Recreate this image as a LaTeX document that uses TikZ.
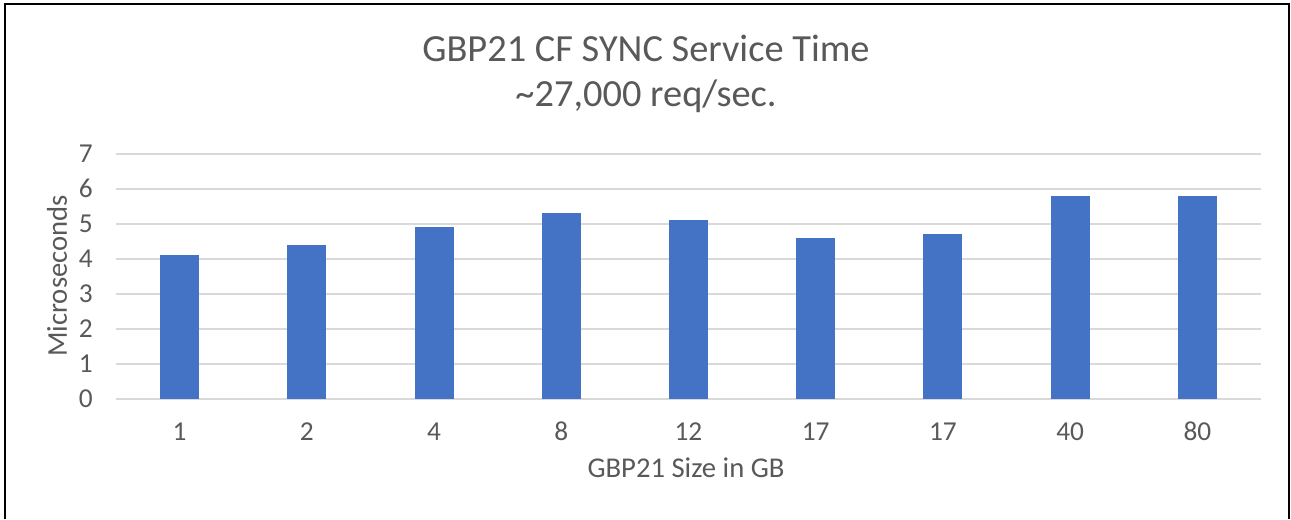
\documentclass[tikz,border=0pt]{standalone}
\usepackage{fontspec}
\setmainfont{Carlito}
\usepackage{xcolor}
\usepackage{tikz}
\usetikzlibrary{positioning}

\definecolor{barblue}{HTML}{4472C4}
\definecolor{txtgray}{HTML}{595959}
\definecolor{gridgray}{HTML}{D9D9D9}

\begin{document}
\begin{tikzpicture}[
  x=0.75pt, y=-0.75pt,
  bar/.style={fill=barblue},
  gridln/.style={draw=gridgray, line width=1.2pt},
  tick/.style={text=txtgray, font=\fontsize{20.5}{24}\selectfont, inner sep=0pt},
  axt/.style={text=txtgray, font=\fontsize{21.5}{25}\selectfont, inner sep=0pt},
  ttl/.style={text=txtgray, font=\fontsize{28.8}{34}\selectfont, inner sep=0pt, anchor=base}
]
  \useasboundingbox (0,0) rectangle (1291,519);
  % chart frame (bottom edge is cut off)
  \draw[line width=1pt] (5,519) -- (5,4) -- (1289,4) -- (1289,519);

  % gridlines and value labels
  \foreach \v in {0,...,7} {
    \draw[gridln] (116,{399-35.04*\v}) -- (1261,{399-35.04*\v});
    \node[tick, anchor=east] (y\v) at (93,{399-35.04*\v}) {\v};
  }

  % bars and category labels
  \foreach \lab/\val [count=\i from 0] in {1/4.1, 2/4.4, 4/4.9, 8/5.3, 12/5.1, 17/4.6, 17/4.7, 40/5.8, 80/5.8} {
    \fill[bar] ({179.6+127.22*\i-19.5},399) rectangle ({179.6+127.22*\i+19.5},{399-35.04*\val});
    \node[tick, anchor=base] (x\i) at ({179.6+127.22*\i},440) {\lab};
  }

  % titles
  \node[ttl] (title) at (646,61) {GBP21 CF SYNC Service Time};
  \node[ttl] (subtitle) at (646,106) {\textasciitilde27,000 req/sec.};
  \node[axt, anchor=base] (xlabel) at (686,477) {GBP21 Size in GB};
  \node[axt, rotate=90] (ylabel) at (57,276) {Microseconds};
\end{tikzpicture}
\end{document}
